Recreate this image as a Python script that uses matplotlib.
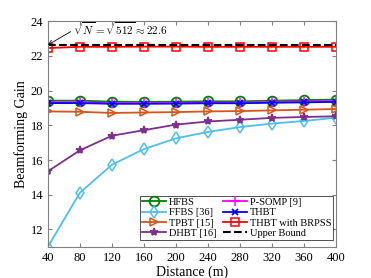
import matplotlib.pyplot as plt
from matplotlib import rcParams
import numpy as np

distance = [40, 80, 120, 160, 200, 240, 280, 320, 360, 400]

hfbs = [19.42, 19.42, 19.36, 19.35, 19.36, 19.38, 19.38, 19.42, 19.45, 19.48]
ffbs = [11.0, 14.12, 15.73, 16.63, 17.25, 17.62, 17.9, 18.1, 18.25, 18.44]
tpbt = [18.8, 18.78, 18.71, 18.74, 18.76, 18.8, 18.82, 18.86, 18.9, 18.94]
dhbt = [15.35, 16.56, 17.4, 17.72, 18.04, 18.22, 18.32, 18.43, 18.48, 18.52]
psomp = [19.33, 19.33, 19.28, 19.28, 19.29, 19.31, 19.31, 19.34, 19.37, 19.4]
thbt = [19.28, 19.28, 19.24, 19.24, 19.25, 19.27, 19.27, 19.3, 19.32, 19.35]
brpss = [22.45, 22.52, 22.52, 22.53, 22.53, 22.52, 22.52, 22.52, 22.52, 22.52]
upper = [22.63] * 10

rcParams['font.family'] = 'Liberation Serif'
rcParams['mathtext.fontset'] = 'cm'

fig = plt.figure(figsize=(3.71, 2.78), dpi=100)
ax = fig.add_axes([0.129, 0.112, 0.777, 0.812])

lw = 1.3
ax.plot(distance, hfbs, color=(0.0, 0.5, 0.0), marker='o', markersize=7, mfc='none', mew=1.3, lw=lw, label='HFBS')
ax.plot(distance, ffbs, color=(0.3, 0.75, 0.93), marker='d', markersize=6, mfc='none', mew=1.1, lw=lw, label='FFBS [36]')
ax.plot(distance, tpbt, color=(0.85, 0.33, 0.1), marker='>', markersize=6, mfc='none', mew=1.1, lw=lw, label='TPBT [15]')
ax.plot(distance, dhbt, color=(0.49, 0.18, 0.56), marker='*', markersize=6, mew=1.1, lw=lw, label='DHBT [16]')
ax.plot(distance, psomp, color=(1.0, 0.0, 1.0), marker='+', markersize=7, mew=1.1, lw=lw, label='P-SOMP [9]')
ax.plot(distance, thbt, color=(0.0, 0.0, 1.0), marker='x', markersize=5, mew=1.3, lw=lw, label='THBT')
ax.plot(distance, brpss, color=(1.0, 0.0, 0.0), marker='s', markersize=6, mfc='none', mew=1.1, lw=lw, label='THBT with BRPSS')
ax.plot(distance, upper, color='k', ls='--', lw=1.5, label='Upper Bound')

ax.annotate(r'$\sqrt{N}=\sqrt{512}\approx 22.6$', xy=(40, 22.63), xytext=(72, 23.22),
            fontsize=8, va='baseline',
            arrowprops=dict(arrowstyle='->', color='k', lw=0.6, shrinkA=0, shrinkB=0,
                            relpos=(0.0, 0.4)))

ax.set_xlim(40, 400)
ax.set_ylim(11, 24)
ax.set_xticks(np.arange(40, 401, 40))
ax.set_yticks(np.arange(12, 25, 2))
ax.tick_params(direction='in', top=True, right=True, labelsize=9, length=3, color='#808080')
for s in ax.spines.values():
    s.set_color('#808080')
    s.set_linewidth(0.8)

ax.set_xlabel('Distance (m)', fontsize=10, labelpad=1)
ax.set_ylabel('Beamforming Gain', fontsize=10, labelpad=2)

leg = ax.legend(ncol=2, loc='lower right', bbox_to_anchor=(0.99, 0.03), fontsize=7.5,
                frameon=True, fancybox=False, edgecolor='k', borderpad=0.2,
                labelspacing=0.1, handlelength=2.3, handletextpad=0.3,
                columnspacing=0.6, borderaxespad=0.0)
leg.get_frame().set_linewidth(0.6)

fig.savefig('out.png', dpi=100)
